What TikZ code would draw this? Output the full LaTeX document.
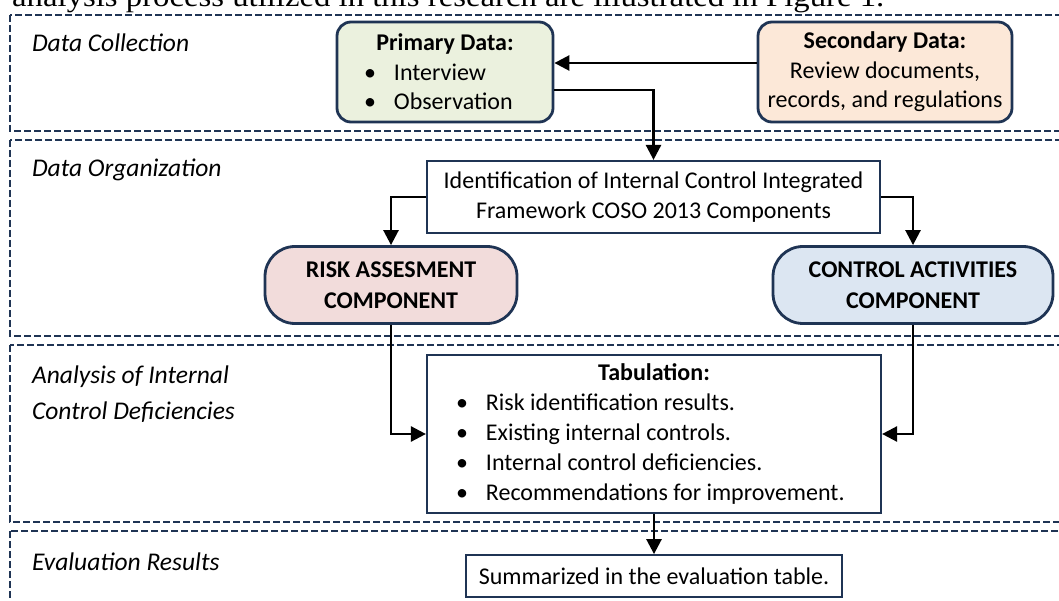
\documentclass[tikz,border=0pt]{standalone}
\usepackage{fontspec}
\setmainfont{Carlito}
\newfontfamily\introfont{Liberation Serif}
\usetikzlibrary{arrows.meta,positioning}

\definecolor{navy}{RGB}{31,52,84}
\definecolor{primfill}{RGB}{235,241,222}
\definecolor{secfill}{RGB}{252,232,216}
\definecolor{riskfill}{RGB}{242,220,219}
\definecolor{ctrlfill}{RGB}{220,230,242}

\newcommand{\bitem}[2]{\makebox[#1][l]{\textbullet\hspace{18pt}#2}}

\begin{document}
\begin{tikzpicture}[x=1pt,y=-1pt]
\tikzstyle{phase}=[draw=navy, line width=2.4pt, dash pattern=on 7pt off 3pt]
\tikzstyle{phasetitle}=[anchor=west, align=left, font=\fontsize{25.5}{36}\selectfont\itshape]
\tikzstyle{rbox}=[rectangle, rounded corners=14pt, draw=navy, line width=2.8pt, inner sep=0pt, minimum height=100pt, align=center, font=\fontsize{24}{29.5}\selectfont]
\tikzstyle{comp}=[rectangle, rounded corners=30pt, draw=navy, line width=2.8pt, inner sep=0pt, minimum height=77pt, align=center, font=\fontsize{24}{31}\selectfont\bfseries]
\tikzstyle{sbox}=[rectangle, draw=navy, line width=2.2pt, fill=white, inner sep=0pt, align=center, font=\fontsize{24}{30}\selectfont]
\tikzstyle{connect}=[-{Triangle[length=15pt,width=15pt]}, line width=2.6pt]
\useasboundingbox (0,0) rectangle (1059,601);
\clip (0,0) rectangle (1059,601);

  % text line cut off above the figure
  \node[anchor=base west, inner sep=0pt, font=\introfont\fontsize{29.5}{32}\selectfont] (intro) at (12,7)
    {\scalebox{1.11}[1]{analysis process utilized in this research are illustrated in Figure 1.}};

  % the four phases
  \draw[phase] (10,15) rectangle (1075,131);
  \draw[phase] (10,140) rectangle (1075,336);
  \draw[phase] (10,345) rectangle (1075,522);
  \draw[phase] (10,531) rectangle (1075,620);
  \node[phasetitle] (t1) at (28.5,43) {Data Collection};
  \node[phasetitle] (t2) at (28.5,170) {Data Organization};
  \node[phasetitle] (t3) at (28.5,394) {Analysis of Internal\\Control Deficiencies};
  \node[phasetitle] (t4) at (28.5,562) {Evaluation Results};

  \node[rbox, fill=primfill, minimum width=216pt] (prim) at (445,72)
    {\textbf{Primary Data:}\\\bitem{162pt}{Interview}\\\bitem{162pt}{Observation}};
  \node[rbox, fill=secfill, minimum width=254pt] (sec) at (885,72)
    {\textbf{Secondary Data:}\\Review documents,\\records, and regulations};
  \node[sbox, minimum width=453pt, minimum height=72pt] (ident) at (653.5,197)
    {Identification of Internal Control Integrated\\Framework COSO 2013 Components};
  \node[comp, fill=riskfill, minimum width=252pt] (risk) at (391,285) {RISK ASSESMENT\\COMPONENT};
  \node[comp, fill=ctrlfill, minimum width=280pt] (ctrl) at (913,285) {CONTROL ACTIVITIES\\COMPONENT};
  \node[sbox, minimum width=454pt, minimum height=158pt] (tab) at (654,434)
    {\textbf{Tabulation:}\\\bitem{396pt}{Risk identification results.}\\\bitem{396pt}{Existing internal controls.}\\\bitem{396pt}{Internal control deficiencies.}\\\bitem{396pt}{Recommendations for improvement.}};
  \node[sbox, minimum width=376pt, minimum height=42pt] (summ) [below=40pt of tab] {Summarized in the evaluation table.};

\draw[connect] ([yshift=9pt]sec.west) -- ([yshift=9pt]prim.east);
\draw[connect] ([yshift=-18pt]prim.east) -| (ident.north);
\draw[connect] (ident.west) -| (risk.north);
\draw[connect] (ident.east) -| (ctrl.north);
\draw[connect] (risk.south) |- (tab.west);
\draw[connect] (ctrl.south) |- (tab.east);
\draw[connect] (tab.south) -- (summ.north);
\end{tikzpicture}
\end{document}
